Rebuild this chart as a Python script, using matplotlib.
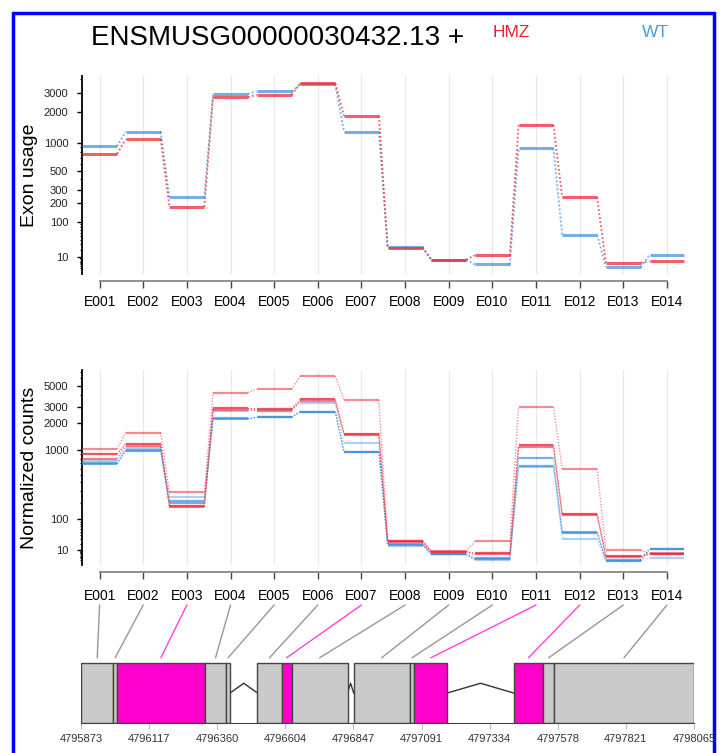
import numpy as np
import matplotlib
matplotlib.use("Agg")
import matplotlib.pyplot as plt
from matplotlib.patches import Rectangle, ConnectionPatch
from matplotlib import transforms

# === Données ===
exons = ['E001', 'E002', 'E003', 'E004', 'E005', 'E006', 'E007',
         'E008', 'E009', 'E010', 'E011', 'E012', 'E013', 'E014']

# exon usage (panneau du haut)
usage_hmz = [770, 1080, 174, 2750, 2890, 3690, 1830, 23.5, 6.9, 11.6, 1500, 238, 4.2, 5.3]
usage_wt = [920, 1290, 238, 2950, 3100, 3600, 1290, 24.5, 6.7, 3.0, 876, 53, 1.6, 12.1]

# normalized counts (panneau du milieu), 3 réplicats par condition
counts_hmz1 = [1040, 1590, 290, 4250, 4600, 6300, 3550, 27, 8.5, 25, 3000, 600, 9.5, 6]
counts_hmz2 = [900, 1190, 175, 2900, 2850, 3600, 1550, 25, 8, 6, 1150, 128, 3.5, 5.7]
counts_hmz3 = [800, 1120, 168, 2800, 2750, 3450, 1500, 23, 7.5, 5, 1100, 120, 3, 5.5]
counts_wt1 = [700, 1000, 212, 2260, 2340, 2680, 965, 20, 5.5, 2, 820, 50, 1, 12]
counts_wt2 = [690, 990, 197, 2240, 2320, 2650, 955, 18, 5, 1.5, 660, 48, 0.8, 11.5]
counts_wt3 = [745, 1060, 250, 2700, 2800, 3280, 1220, 17, 5, 1, 630, 30, 0.8, 2.2]

# modèle de gène (coordonnées génomiques)
exon_start = [4795873, 4795989, 4796001, 4796316, 4796392, 4796504, 4796590,
              4796626, 4796848, 4797048, 4797065, 4797420, 4797526, 4797564]
exon_end = [4795989, 4796001, 4796316, 4796392, 4796406, 4796590, 4796626,
            4796826, 4797048, 4797065, 4797183, 4797526, 4797564, 4798065]
exon_signif = [False, False, True, False, False, False, True,
               False, False, False, True, True, False, False]
genome_ticks = [4795873, 4796117, 4796360, 4796604, 4796847,
                4797091, 4797334, 4797578, 4797821, 4798065]

usage_major = [10, 100, 200, 300, 500, 1000, 2000, 3000]
usage_minor = [1, 2, 3, 4, 5, 6, 7, 8, 9, 20, 30, 40, 50, 60, 70, 80, 90,
               400, 600, 700, 800, 900, 4000]
counts_major = [10, 100, 1000, 2000, 3000, 5000]
counts_minor = [1, 2, 3, 4, 5, 6, 7, 8, 9, 20, 30, 40, 50, 60, 70, 80, 90,
                200, 300, 400, 500, 600, 700, 800, 900, 4000, 6000, 7000]

# === Style ===
RED = '#EE2A3A'
BLUE = '#3A8EDB'
plt.rcParams['font.family'] = ['Liberation Sans', 'DejaVu Sans']

W, H = 725, 753
fig = plt.figure(figsize=(W / 100, H / 100), dpi=100)


def fwd(q):
    # transformation type vst (asinh de la racine)
    return 2 * np.arcsinh(np.sqrt(np.clip(q, 0, None) / 325.0))


def inv(y):
    return 325.0 * np.sinh(np.asarray(y) / 2.0) ** 2


def px_axes(left, top, right, bottom):
    return fig.add_axes([left / W, 1 - bottom / H, (right - left) / W, (bottom - top) / H])


def draw_series(ax, values, color, alpha, lw):
    x = np.arange(1, len(values) + 1)
    ax.hlines(values, x - 0.4, x + 0.4, colors=color, alpha=alpha, lw=lw, zorder=3)
    for i in range(len(values) - 1):
        ax.plot([x[i] + 0.4, x[i] + 0.6], [values[i], values[i + 1]], ls=(0, (1, 1.2)),
                color=color, alpha=alpha, lw=lw * 0.6, zorder=3)


def style_axes(ax, ymax, major, minor, ylabel, xpad):
    ax.set_yscale('function', functions=(fwd, inv))
    ax.set_xlim(0.59, 14.45)
    ax.set_ylim(0, ymax)
    ax.set_yticks(major)
    ax.set_yticklabels([str(v) for v in major], fontsize=8, color='#222')
    ax.set_yticks(minor, minor=True)
    ax.set_xticks(range(1, 15))
    ax.set_xticklabels(exons, fontsize=8, color='#222')
    ax.tick_params(axis='y', which='major', length=3.6, width=1.0, pad=6)
    ax.tick_params(axis='y', which='minor', length=1.8, width=0.8)
    ax.tick_params(axis='x', length=5, width=1.0, color='#444', pad=xpad)
    for s in ['top', 'right']:
        ax.spines[s].set_visible(False)
    ax.spines['left'].set_linewidth(1.3)
    ax.spines['bottom'].set_position(('outward', 5.3))
    ax.spines['bottom'].set_bounds(1, 14)
    ax.spines['bottom'].set_color('#888')
    ax.spines['bottom'].set_linewidth(1.3)
    ax.grid(axis='x', color='#EDE6EE', lw=0.9)
    ax.set_axisbelow(True)
    ax.set_ylabel(ylabel, fontsize=14)
    ax.yaxis.set_label_coords((38 - 81.7) / 605, 0.5)


# === Panneau du haut : exon usage ===
ax_top = px_axes(81.7, 76, 686.6, 273.9)
style_axes(ax_top, 4300, usage_major, usage_minor, 'Exon usage', 5)
draw_series(ax_top, usage_wt, BLUE, 0.7, 2.2)
draw_series(ax_top, usage_hmz, RED, 0.75, 2.2)

# === Panneau du milieu : normalized counts ===
ax_mid = px_axes(81.7, 370, 686.6, 565.1)
style_axes(ax_mid, 7270, counts_major, counts_minor, 'Normalized counts', 7)
draw_series(ax_mid, counts_wt3, BLUE, 0.4, 1.6)
draw_series(ax_mid, counts_wt2, BLUE, 0.7, 1.6)
draw_series(ax_mid, counts_wt1, BLUE, 0.7, 1.6)
draw_series(ax_mid, counts_hmz1, RED, 0.55, 1.6)
draw_series(ax_mid, counts_hmz3, RED, 0.6, 1.6)
draw_series(ax_mid, counts_hmz2, RED, 0.8, 1.6)

# === Modèle de gène ===
ax_g = px_axes(81, 656.6, 694, 723.3)
ax_g.set_xlim(exon_start[0], exon_end[-1])
ax_g.set_ylim(0, 1.1)
for s, e, sig in zip(exon_start, exon_end, exon_signif):
    ax_g.add_patch(Rectangle((s, 0), e - s, 1, facecolor='#FF00CC' if sig else '#CACACA',
                             edgecolor='#444', lw=1.0, zorder=2))
for i in range(len(exon_start) - 1):
    if exon_start[i + 1] > exon_end[i]:
        a, b = exon_end[i], exon_start[i + 1]
        ax_g.plot([a, (a + b) / 2, b], [0.5, 0.66, 0.5], color='#333', lw=1.0, zorder=1)
for s in ['top', 'right', 'left']:
    ax_g.spines[s].set_visible(False)
ax_g.spines['bottom'].set_color('#444')
ax_g.set_yticks([])
ax_g.set_xticks(genome_ticks)
ax_g.set_xticklabels([str(v) for v in genome_ticks], fontsize=8, color='#333')
ax_g.tick_params(axis='x', length=4, color='#bbb', pad=4)

# lignes qui relient les étiquettes d'exons au modèle de gène
trans_a = transforms.blended_transform_factory(ax_mid.transData, fig.transFigure)
for i, (s, e, sig) in enumerate(zip(exon_start, exon_end, exon_signif)):
    con = ConnectionPatch(xyA=(i + 1, 1 - 605 / H), coordsA=trans_a,
                          xyB=((s + e) / 2, 1.08), coordsB=ax_g.transData,
                          color='#FF44DD' if sig else '#9C968E', lw=1.0)
    fig.add_artist(con)

# === Titre et légende ===
fig.text(278 / W, 1 - 45 / H, 'ENSMUSG00000030432.13 +', fontsize=20, ha='center', va='baseline')
fig.text(511 / W, 1 - 36.7 / H, 'HMZ', fontsize=12.5, color='#F0202E', ha='center', va='baseline')
fig.text(655 / W, 1 - 36.7 / H, 'WT', fontsize=12.5, color='#4A9BE0', ha='center', va='baseline')

# cadre bleu (dessiné sous les axes pour ne pas masquer le dernier label)
fig.add_artist(Rectangle((13 / W, -0.05), (714 - 13) / W, 1 - 13 / H + 0.05,
                         transform=fig.transFigure, fill=False, ec='#0000FF', lw=2.5,
                         zorder=-1))

fig.savefig('out.png', dpi=100)
